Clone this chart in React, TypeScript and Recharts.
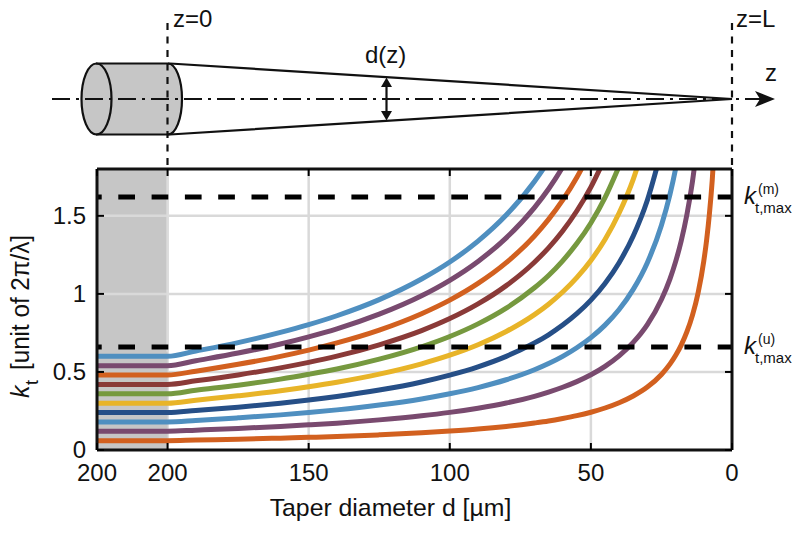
import React from "react";
import { LineChart, Line, XAxis, YAxis, CartesianGrid, ReferenceArea, ReferenceLine, Label } from "recharts";

const diameters = [225, 200, 190, 175, 160, 150, 140, 125, 110, 100, 90, 80, 70, 65, 60, 55, 50, 45, 40, 35, 30, 25, 22, 20, 18, 16, 14, 12, 10, 9, 8, 7, 6];

// k_t, one array per mode, lowest curve first
const mode1 = [0.06, 0.06, 0.064, 0.069, 0.076, 0.081, 0.086, 0.097, 0.11, 0.121, 0.134, 0.151, 0.173, 0.186, 0.202, 0.22, 0.242, 0.269, 0.303, 0.346, 0.403, 0.484, 0.55, 0.605, 0.672, 0.756, 0.864, 1.008, 1.21, 1.344, 1.513, 1.729, 2.017];
const mode2 = [0.12, 0.12, 0.127, 0.138, 0.151, 0.161, 0.172, 0.193, 0.219, 0.241, 0.268, 0.301, 0.344, 0.371, 0.402, 0.438, 0.482, 0.536, 0.603, 0.689, 0.803, 0.964, 1.095, 1.205, 1.339, 1.506, 1.721, 2.008];
const mode3 = [0.18, 0.18, 0.189, 0.206, 0.225, 0.24, 0.257, 0.288, 0.327, 0.36, 0.4, 0.45, 0.514, 0.554, 0.6, 0.655, 0.72, 0.8, 0.9, 1.029, 1.2, 1.44, 1.636, 1.8, 2.0];
const mode4 = [0.24, 0.24, 0.253, 0.274, 0.3, 0.32, 0.343, 0.384, 0.436, 0.48, 0.533, 0.6, 0.686, 0.738, 0.8, 0.873, 0.96, 1.067, 1.2, 1.371, 1.6, 1.92];
const mode5 = [0.3, 0.3, 0.319, 0.347, 0.379, 0.405, 0.434, 0.486, 0.552, 0.607, 0.674, 0.759, 0.867, 0.934, 1.012, 1.104, 1.214, 1.349, 1.518, 1.734, 2.023];
const mode6 = [0.36, 0.36, 0.383, 0.415, 0.454, 0.485, 0.519, 0.582, 0.661, 0.727, 0.808, 0.909, 1.039, 1.118, 1.212, 1.322, 1.454, 1.616, 1.818];
const mode7 = [0.42, 0.42, 0.443, 0.481, 0.526, 0.561, 0.601, 0.674, 0.765, 0.842, 0.936, 1.053, 1.203, 1.295, 1.403, 1.531, 1.684, 1.871];
const mode8 = [0.48, 0.48, 0.505, 0.549, 0.6, 0.64, 0.686, 0.768, 0.873, 0.96, 1.067, 1.2, 1.371, 1.477, 1.6, 1.745, 1.92];
const mode9 = [0.54, 0.54, 0.572, 0.621, 0.679, 0.725, 0.776, 0.87, 0.988, 1.087, 1.208, 1.359, 1.553, 1.672, 1.812, 1.976];
const mode10 = [0.6, 0.6, 0.634, 0.688, 0.753, 0.803, 0.86, 0.963, 1.095, 1.204, 1.338, 1.505, 1.72, 1.852, 2.007];

const modes = [mode1, mode2, mode3, mode4, mode5, mode6, mode7, mode8, mode9, mode10];
const modeColors = ["#d2601f", "#794a6f", "#4f8fc0", "#264f87", "#e8b428", "#76993f", "#8a3a38", "#d2601f", "#794a6f", "#4f8fc0"];

const xTicks = [225, 200, 150, 100, 50, 0];
const yTicks = [0, 0.5, 1, 1.5];
const xGrid = [200, 150, 100, 50];
const yGrid = [0.5, 1, 1.5];
const stripGrid = [1, 1.5];
const kMaxMultimode = 1.62;
const kMaxUnguided = 0.66;

const chartData = diameters.map((d, i) => {
  const row: Record<string, number | null> = { d };
  modes.forEach((m, j) => {
    row[`m${j + 1}`] = i < m.length ? m[i] : null;
  });
  return row;
});

const FONT = '"Liberation Sans", Arial, sans-serif';

function BottomTick({ x, y, payload }: any) {
  // the strip left of z=0 is a constant section, also labelled 200
  const label = payload.value === 225 ? 200 : payload.value;
  return (
    <g>
      <line x1={x} x2={x} y1={y} y2={y - 7} stroke="#000" strokeWidth={2} />
      <text x={x} y={y + 31} textAnchor="middle" fontSize={24} fontFamily={FONT} fill="#111">{label}</text>
    </g>
  );
}

function LeftTick({ x, y, payload }: any) {
  return (
    <g>
      <line x1={x} x2={x + 7} y1={y} y2={y} stroke="#000" strokeWidth={2} />
      <text x={x - 11} y={y + 8} textAnchor="end" fontSize={24} fontFamily={FONT} fill="#111">{payload.value}</text>
    </g>
  );
}

function TopTick({ x, y }: any) {
  return <line x1={x} x2={x} y1={y} y2={y + 7} stroke="#000" strokeWidth={2} />;
}

function RightTick({ x, y }: any) {
  return <line x1={x} x2={x - 7} y1={y} y2={y} stroke="#000" strokeWidth={2} />;
}

function YTitle() {
  return (
    <g transform="translate(28.5 398) rotate(-90)" fontFamily={FONT} fill="#111">
      <text x={0} y={0} fontSize={25} fontStyle="italic">k</text>
      <text x={13} y={9} fontSize={18}>t</text>
      <text x={28} y={0} fontSize={25} textLength={135} lengthAdjust="spacingAndGlyphs">[unit of 2π/λ]</text>
    </g>
  );
}

function KMaxLabel({ x, y, sup }: { x: number; y: number; sup: string }) {
  return (
    <g fontFamily={FONT} fill="#111">
      <text x={x} y={y} fontSize={24} fontStyle="italic">k</text>
      <text x={x + 14} y={y - 10} fontSize={14}>{sup}</text>
      <text x={x + 11} y={y + 9} fontSize={15}>t,max</text>
    </g>
  );
}

function Schematic() {
  return (
    <svg width={800} height={533} style={{ position: "absolute", left: 0, top: 0, pointerEvents: "none" }}>
      {/* fibre body up to z=0 */}
      <path d="M96 63.5 L168 63.5 A14 35.5 0 0 1 168 134.5 L96 134.5 A15 35.5 0 0 1 96 63.5 Z" fill="#c6c6c6" stroke="none" />
      <path d="M96 63.5 L170 63.5 M96 134.5 L170 134.5" stroke="#111" strokeWidth={2.2} />
      <ellipse cx={96.5} cy={99} rx={15} ry={35.5} fill="none" stroke="#111" strokeWidth={2.2} />
      <path d="M168 63.5 A14 35.5 0 0 1 168 134.5" fill="none" stroke="#111" strokeWidth={2.2} />
      {/* taper */}
      <path d="M170 63.5 L732 99 L170 134.5" fill="none" stroke="#111" strokeWidth={2.2} />
      {/* axis */}
      <line x1={52} x2={760} y1={99} y2={99} stroke="#111" strokeWidth={2.2} strokeDasharray="18 6 3 6" />
      <path d="M755 91 L775 99 L755 107 L760 99 Z" fill="#111" />
      {/* d(z) arrow */}
      <line x1={386.5} x2={386.5} y1={80} y2={118} stroke="#111" strokeWidth={2.2} />
      <path d="M381 87 L386.5 77.5 L392 87 Z M381 111 L386.5 120.5 L392 111 Z" fill="#111" />
      {/* z=0 and z=L markers */}
      <line x1={167.5} x2={167.5} y1={23} y2={168} stroke="#111" strokeWidth={2.2} strokeDasharray="7 6.5" />
      <line x1={732} x2={732} y1={23} y2={168} stroke="#111" strokeWidth={2.2} strokeDasharray="7 6.5" />
      <g fontFamily={FONT} fontSize={24} fill="#111">
        <text x={173} y={27}>z=0</text>
        <text x={736} y={27}>z=L</text>
        <text x={365} y={63}>d(z)</text>
        <text x={765} y={81}>z</text>
      </g>
      <KMaxLabel x={744} y={204} sup="(m)" />
      <KMaxLabel x={744} y={354} sup="(u)" />
      <YTitle />
    </svg>
  );
}

export default function App() {
  return (
    <div style={{ position: "absolute", left: 0, top: 0, width: 800, height: 533, background: "#fff" }}>
      <LineChart width={800} height={533} data={chartData} margin={{ top: 168, right: 0, bottom: 0, left: 0 }}>
        <ReferenceArea xAxisId="bottom" yAxisId="left" x1={225} x2={200} y1={0} y2={1.8} fill="#c6c6c6" fillOpacity={1} stroke="none" />
        <CartesianGrid xAxisId="bottom" yAxisId="left" stroke="#d9d9d9" strokeWidth={2.5} verticalValues={xGrid} horizontalValues={yGrid} syncWithTicks={false} />
        <XAxis
          xAxisId="bottom"
          dataKey="d"
          type="number"
          domain={[0, 225]}
          reversed
          ticks={xTicks}
          interval={0}
          height={83}
          tick={BottomTick}
          tickSize={0}
          tickMargin={0}
          tickLine={false}
          axisLine={{ stroke: "#111", strokeWidth: 3 }}
        >
          <Label position="insideBottom" offset={17} dx={-24} value="Taper diameter d [µm]" fontSize={24.8} fontFamily={FONT} fill="#111" />
        </XAxis>
        <XAxis
          xAxisId="top"
          orientation="top"
          dataKey="d"
          type="number"
          domain={[0, 225]}
          reversed
          ticks={xTicks}
          interval={0}
          height={1}
          tick={TopTick}
          tickSize={0}
          tickMargin={0}
          tickLine={false}
          axisLine={{ stroke: "#111", strokeWidth: 3 }}
        />
        <YAxis
          yAxisId="left"
          type="number"
          domain={[0, 1.8]}
          allowDataOverflow
          ticks={yTicks}
          interval={0}
          width={97}
          tick={LeftTick}
          tickSize={0}
          tickMargin={0}
          tickLine={false}
          axisLine={{ stroke: "#111", strokeWidth: 3 }}
        />
        <YAxis
          yAxisId="right"
          orientation="right"
          type="number"
          domain={[0, 1.8]}
          allowDataOverflow
          ticks={yTicks}
          interval={0}
          width={68}
          tick={RightTick}
          tickSize={0}
          tickMargin={0}
          tickLine={false}
          axisLine={{ stroke: "#111", strokeWidth: 3 }}
        />
        {stripGrid.map((k) => (
          <ReferenceLine
            key={k}
            xAxisId="bottom"
            yAxisId="left"
            segment={[{ x: 225, y: k }, { x: 200, y: k }]}
            stroke="#d9d9d9"
            strokeWidth={2.5}
          />
        ))}
        <ReferenceLine
          xAxisId="bottom"
          yAxisId="left"
          segment={[{ x: 200, y: 0.63 }, { x: 200, y: 1.8 }]}
          stroke="#dcdcdc"
          strokeWidth={2.5}
        />
        {modes.map((_, j) => (
          <Line
            key={j}
            xAxisId="bottom"
            yAxisId="left"
            dataKey={`m${j + 1}`}
            type="monotone"
            stroke={modeColors[j]}
            strokeWidth={5}
            dot={false}
            activeDot={false}
            isAnimationActive={false}
          />
        ))}
        <ReferenceLine xAxisId="bottom" yAxisId="left" y={kMaxMultimode} stroke="#000" strokeWidth={5} strokeDasharray="16.7 16.6" strokeDashoffset={12} />
        <ReferenceLine xAxisId="bottom" yAxisId="left" y={kMaxUnguided} stroke="#000" strokeWidth={5} strokeDasharray="16.7 16.6" strokeDashoffset={12} />
      </LineChart>
      <Schematic />
    </div>
  );
}
